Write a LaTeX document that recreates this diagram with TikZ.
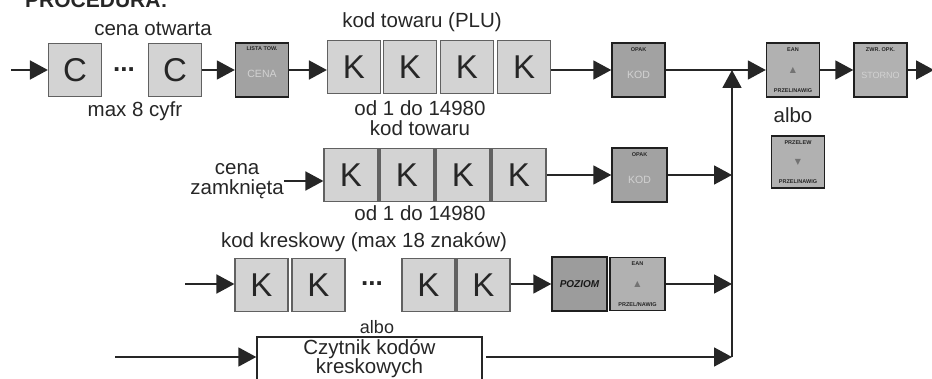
\documentclass[tikz,border=0pt]{standalone}
\usepackage{fontspec}
\setmainfont{Liberation Sans}
\newfontfamily\symf{DejaVu Sans}
\usetikzlibrary{arrows.meta}
\definecolor{cellg}{HTML}{D3D3D3}
\definecolor{keyA}{HTML}{A2A2A2}
\definecolor{keyB}{HTML}{B1B1B1}
\definecolor{keyC}{HTML}{9C9C9C}
\definecolor{inkc}{HTML}{262626}
\definecolor{midc}{HTML}{D2D2D2}
\begin{document}
\begin{tikzpicture}[x=1pt,y=-1pt,
  cell/.style={draw=black!62, line width=1.2pt, fill=cellg, minimum width=53pt, minimum height=53pt, inner sep=0pt, font=\fontsize{33}{33}\selectfont, text=inkc},
  key/.style={draw=black!88, line width=1.4pt, minimum width=53pt, minimum height=54pt, inner sep=0pt},
  ktop/.style={font=\fontsize{5.5}{6}\selectfont\bfseries, inner sep=0pt, text=black!85},
  kmid/.style={font=\fontsize{10.5}{11}\selectfont, inner sep=0pt, text=midc},
  ksym/.style={font=\symf\fontsize{8}{8}\selectfont, inner sep=0pt, text=black!55},
  lbl/.style={font=\fontsize{20.5}{19.5}\selectfont, inner sep=0pt, text=inkc, align=center},
  dotsn/.style={font=\fontsize{26}{26}\selectfont\bfseries, inner sep=0pt, text=inkc},
  arr/.style={line width=1.8pt, draw=inkc, -{Triangle[length=18pt,width=19pt]}},
  ln/.style={line width=1.8pt, draw=inkc}]
\useasboundingbox (0,0) rectangle (932,379);

% header
\node[font=\fontsize{21}{21}\selectfont\bfseries, anchor=base west, inner sep=0pt, text=inkc] (head) at (25,8) {PROCEDURA:};

% ---------- row 1 ----------
\node[lbl] (lco) at (153,29) {cena otwarta};
\node[lbl] (lmax) at (135,111) {max 8 cyfr};
\coordinate (s1) at (11,70);
\node[cell] (c1) at (75,70) {C};
\node[dotsn] (d1) at (124,70) {...};
\node[cell] (c2) at (175,70) {C};

\node[key, fill=keyA] (lista) at (262,70) {};
\node[ktop] (listaT) at ([yshift=-6pt]lista.north) {LISTA TOW.};
\node[kmid] (listaM) at ([yshift=-4pt]lista.center) {CENA};

\node[lbl] (lplu) at (422,22) {kod towaru (PLU)};
\node[cell] (k11) at (354,67) {K};
\node[cell] (k12) at (410,67) {K};
\node[cell] (k13) at (467,67) {K};
\node[cell] (k14) at (524,67) {K};
\node[lbl] (lod1) at (420,108.5) {od 1 do 14980};

\node[key, fill=keyA] (opak1) at (638.5,70) {};
\node[ktop] (opak1T) at ([yshift=-7pt]opak1.north) {OPAK};
\node[kmid] (opak1M) at ([yshift=-5pt]opak1.center) {KOD};

\node[key, fill=keyB] (ean1) at (793,70) {};
\node[ktop] (ean1T) at ([yshift=-7pt]ean1.north) {EAN};
\node[ksym] (ean1M) at (ean1.center) {▲};
\node[ktop] (ean1B) at ([yshift=7pt]ean1.south) {PRZEL/NAWIG};

\node[key, fill=keyB] (zwr) at (880.5,70) {};
\node[ktop] (zwrT) at ([yshift=-7pt]zwr.north) {ZWR. OPK.};
\node[kmid, font=\fontsize{9}{9}\selectfont] (zwrM) at ([yshift=-5pt]zwr.center) {STORNO};
\coordinate (out) at (934,70);

\node[lbl] (albo1) at (793,115) {albo};
\node[key, fill=keyB, minimum height=52pt] (prz) at (798,162) {};
\node[ktop] (przT) at ([yshift=-7pt]prz.north) {PRZELEW};
\node[ksym] (przM) at (prz.center) {▼};
\node[ktop] (przB) at ([yshift=7pt]prz.south) {PRZEL/NAWIG};

% ---------- row 2 ----------
\node[lbl] (lkt) at (420,128.5) {kod towaru};
\node[lbl, anchor=east] (lcz) at (284,181) {cena\\zamknięta};
\node[cell, minimum width=54pt] (k21) at (351,175) {K};
\node[cell, minimum width=54pt] (k22) at (407,175) {K};
\node[cell, minimum width=54pt] (k23) at (463,175) {K};
\node[cell, minimum width=54pt] (k24) at (519,175) {K};
\node[lbl] (lod2) at (420,213) {od 1 do 14980};

\node[key, fill=keyA, minimum width=55pt] (opak2) at (639.5,175) {};
\node[ktop] (opak2T) at ([yshift=-7pt]opak2.north) {OPAK};
\node[kmid] (opak2M) at ([yshift=-5pt]opak2.center) {KOD};

% ---------- row 3 ----------
\node[lbl] (lkk) at (364,242) {kod kreskowy (max 18 znaków)};
\coordinate (s3) at (185,284);
\node[cell] (k31) at (261.5,285) {K};
\node[cell] (k32) at (318.5,285) {K};
\node[dotsn] (d3) at (372,284) {...};
\node[cell] (k33) at (428.5,285) {K};
\node[cell] (k34) at (483.5,285) {K};

\node[key, fill=keyC, minimum width=55pt] (poz) at (579.5,284) {};
\node[font=\fontsize{10}{10}\selectfont\bfseries\itshape, inner sep=0pt, text=black!90] (pozM) at (poz.center) {POZIOM};

\node[key, fill=keyB, minimum width=55pt, minimum height=53pt] (ean2) at (637.5,284) {};
\node[ktop] (ean2T) at ([yshift=-7pt]ean2.north) {EAN};
\node[ksym] (ean2M) at (ean2.center) {▲};
\node[ktop] (ean2B) at ([yshift=7pt]ean2.south) {PRZEL/NAWIG};

% ---------- row 4 ----------
\node[lbl, font=\fontsize{18}{18}\selectfont] (albo2) at (377,327) {albo};
\coordinate (s4) at (115,357);
\node[draw=inkc, line width=1.4pt, fill=white, minimum width=225pt, minimum height=58pt, inner sep=0pt] (czyt) at (369.5,366) {};
\node[lbl] (czytT) at (369.5,358.5) {Czytnik kodów\\kreskowych};
\coordinate (r4) at (486,357);

% junction line
\coordinate (j1) at (732,70);
\coordinate (j2) at (732,175);
\coordinate (j3) at (732,284);
\coordinate (j4) at (732,357);

% ---------- connectors ----------
\draw[arr] (s1) -- (c1.west);
\draw[arr] (c2.east) -- (lista.west);
\draw[arr] (lista.east) -- (lista.east -| k11.west);
\draw[arr] (k14.east |- opak1) -- (opak1.west);
\draw[arr] (opak1.east) -- (ean1.west);
\draw[arr] (ean1.east) -- (zwr.west);
\draw[arr] (zwr.east) -- (out);

\draw[arr] (lcz.east) -- (lcz.east -| k21.west);
\draw[arr] (k24.east |- opak2) -- (opak2.west);
\draw[arr] (opak2.east) -- (j2);

\draw[arr] (s3) -- (s3 -| k31.west);
\draw[arr] (k34.east |- poz) -- (poz.west);
\draw[arr] (ean2.east) -- (j3);

\draw[arr] (s4) -- (s4 -| czyt.west);
\draw[arr] (r4) -- (j4);
\draw[arr] (j4) -- (j1);
\end{tikzpicture}
\end{document}
